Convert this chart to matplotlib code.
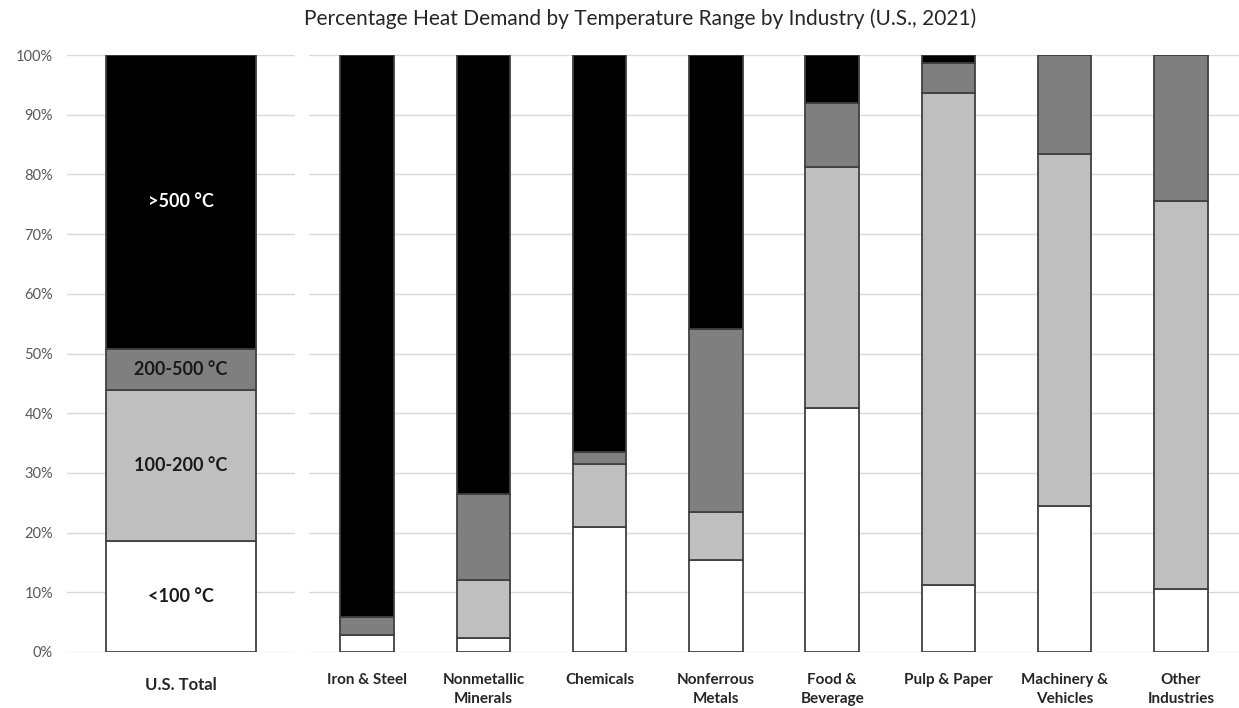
import numpy as np
import matplotlib.pyplot as plt

plt.rcParams['font.family'] = ['Lato', 'DejaVu Sans']

# shares (%) by temperature range
bands = ["<100 °C", "100-200 °C", "200-500 °C", ">500 °C"]
colors = ["#ffffff", "#bfbfbf", "#7f7f7f", "#000000"]
label_colors = ["#1a1a1a", "#1a1a1a", "#1a1a1a", "#ffffff"]

total_name = "U.S. Total"
total_values = [18.6, 25.3, 6.9, 49.2]

industries = ["Iron & Steel", "Nonmetallic\nMinerals", "Chemicals", "Nonferrous\nMetals",
              "Food &\nBeverage", "Pulp & Paper", "Machinery &\nVehicles", "Other\nIndustries"]
below_100 = [2.8, 2.3, 20.9, 15.4, 40.9, 11.2, 24.5, 10.6]
from_100_200 = [0.0, 9.8, 10.6, 8.1, 40.3, 82.4, 58.9, 64.9]
from_200_500 = [3.1, 14.4, 2.0, 30.6, 10.8, 5.1, 16.6, 24.5]
above_500 = [94.1, 73.5, 66.5, 45.9, 8.0, 1.3, 0.0, 0.0]

edge = "#404040"
grid_c = "#d9d9d9"

fig = plt.figure(figsize=(12.39, 7.08), dpi=100)
ax1 = fig.add_axes([0.054, 0.0791, 0.184, 0.8432])
ax2 = fig.add_axes([0.2494, 0.0791, 0.7506, 0.8432])

for ax in (ax1, ax2):
    ax.set_ylim(0, 100)
    ax.set_yticks(np.arange(0, 101, 10))
    ax.yaxis.grid(True, color=grid_c, linewidth=1.0)
    ax.set_axisbelow(True)
    for s in ax.spines.values():
        s.set_visible(False)
    ax.tick_params(axis='both', length=0)

# U.S. total, with labels inside the segments
bottom = 0
for val, col, lab, lc in zip(total_values, colors, bands, label_colors):
    ax1.bar(0, val, bottom=bottom, width=0.66, color=col, edgecolor=edge, linewidth=1.3)
    ax1.text(0, bottom + val / 2, lab, ha='center', va='center', color=lc,
             fontsize=13, fontweight='bold')
    bottom += val
ax1.set_xlim(-0.5, 0.5)
ax1.set_xticks([0])
ax1.set_xticklabels([total_name], fontsize=12, fontweight='bold', color="#262626")
ax1.set_yticklabels([f"{v}%" for v in range(0, 101, 10)], fontsize=10.5, color="#595959")
ax1.tick_params(axis='x', pad=18)
ax1.tick_params(axis='y', pad=10)

# industries
x = np.arange(len(industries))
bottom = np.zeros(len(industries))
for vals, col in zip([below_100, from_100_200, from_200_500, above_500], colors):
    vals = np.array(vals)
    ax2.bar(x, vals, bottom=bottom, width=0.46, color=col, edgecolor=edge, linewidth=1.3)
    bottom += vals
ax2.set_xlim(-0.5, 7.5)
ax2.set_xticks(x)
ax2.set_xticklabels(industries, fontsize=11, fontweight='bold', color="#262626",
                    va='top', linespacing=1.45)
ax2.set_yticklabels([])
ax2.tick_params(axis='x', pad=15)

fig.suptitle("Percentage Heat Demand by Temperature Range by Industry (U.S., 2021)",
             x=0.517, y=0.988, fontsize=15, color="#262626")

fig.savefig("out.png", dpi=100)
